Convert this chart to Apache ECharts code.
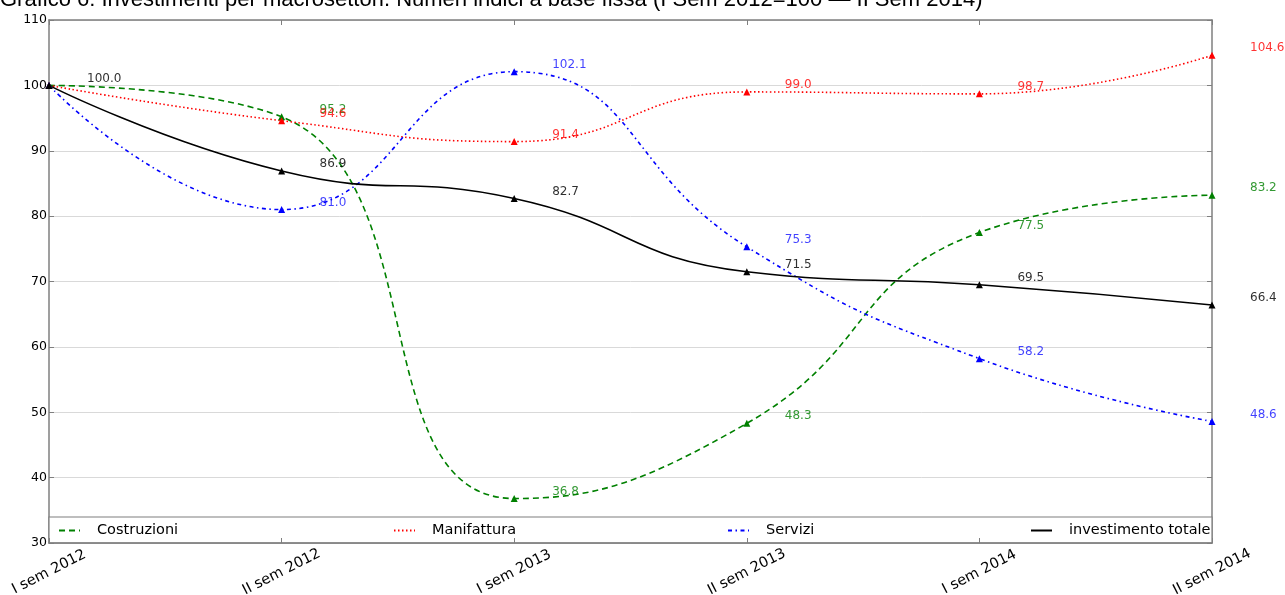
<!DOCTYPE html>
<html>
<head>
<meta charset="utf-8">
<script src="https://cdn.jsdelivr.net/npm/echarts@6/dist/echarts.min.js"></script>
<style>
  html, body { margin: 0; padding: 0; background: #fff; }
  #chart { width: 1285px; height: 595px; }
</style>
</head>
<body>
<div id="chart"></div>
<script>
// Semesters on the x axis
var categories = ['I sem 2012', 'II sem 2012', 'I sem 2013', 'II sem 2013', 'I sem 2014', 'II sem 2014'];

// Fixed-base index numbers (I sem 2012 = 100)
var costruzioni = [100.0, 95.2, 36.8, 48.3, 77.5, 83.2];
var manifattura = [100.0, 94.6, 91.4, 99.0, 98.7, 104.6];
var servizi = [100.0, 81.0, 102.1, 75.3, 58.2, 48.6];
var totale = [100.0, 86.9, 82.7, 71.5, 69.5, 66.4];

var seriesNames = ['Costruzioni', 'Manifattura', 'Servizi', 'investimento totale'];

// Y axis scale
var yMin = 30, yMax = 110, yStep = 10;

var FONT = 'DejaVu Sans';
var FRAME = '#7f7f7f';

function makeSeries(name, data, color, labelColor, dash, showFirst) {
  return {
    name: name,
    type: 'line',
    data: data,
    smooth: 0.5,
    symbol: 'triangle',
    symbolSize: 7,
    showAllSymbol: true,
    itemStyle: { color: color },
    lineStyle: { color: color, width: 1.6, type: dash },
    emphasis: { disabled: true },
    label: {
      show: true,
      position: 'inside',
      offset: [38, -7],
      align: 'left',
      verticalAlign: 'middle',
      fontFamily: FONT,
      fontSize: 12,
      color: labelColor,
      formatter: function (p) {
        if (p.dataIndex === 0 && !showFirst) return '';
        return Number(p.value).toFixed(1);
      }
    },
    z: 3
  };
}

function legendAt(name, left) {
  return {
    data: [name],
    left: left,
    top: 523,
    orient: 'horizontal',
    itemWidth: 21,
    itemHeight: 14,
    padding: 0,
    selectedMode: false,
    itemStyle: { opacity: 0 },
    textStyle: { fontFamily: FONT, fontSize: 14.5, color: '#000', padding: [0, 0, 0, 12] },
    z: 10
  };
}

var chart = echarts.init(document.getElementById('chart'), null, { renderer: 'canvas' });

var option = {
  animation: false,
  backgroundColor: '#fff',
  title: {
    text: 'Grafico 6: Investimenti per macrosettori. Numeri indici a base fissa (I Sem 2012=100 \u2014 II Sem 2014)',
    left: 0,
    top: -11,
    padding: 0,
    textStyle: { fontFamily: 'Liberation Sans', fontSize: 22, fontWeight: 'normal', color: '#000' }
  },
  grid: { left: 49, right: 73, top: 20, bottom: 52, containLabel: false, outerBoundsMode: 'none' },
  legend: [
    legendAt(seriesNames[0], 58),
    legendAt(seriesNames[1], 393),
    legendAt(seriesNames[2], 727),
    legendAt(seriesNames[3], 1030)
  ],
  graphic: [
    {
      type: 'rect',
      shape: { x: 49, y: 517, width: 1163, height: 26 },
      style: { fill: '#fff', stroke: FRAME, lineWidth: 1.2 },
      z: 1
    }
  ],
  xAxis: [
    {
      type: 'category',
      data: categories,
      boundaryGap: false,
      position: 'bottom',
      axisLine: { show: true, lineStyle: { color: FRAME, width: 1.5 } },
      axisTick: { show: true, inside: true, length: 5, lineStyle: { color: FRAME } },
      axisLabel: {
        rotate: 27,
        align: 'center',
        verticalAlign: 'middle',
        margin: 29,
        fontFamily: FONT,
        fontSize: 14.5,
        color: '#000',
        interval: 0
      },
      splitLine: { show: false },
      z: 5
    },
    {
      type: 'category',
      data: categories,
      boundaryGap: false,
      position: 'top',
      axisLine: { show: true, lineStyle: { color: FRAME, width: 1.5 } },
      axisTick: { show: true, inside: true, length: 5, lineStyle: { color: FRAME } },
      axisLabel: { show: false },
      splitLine: { show: false }
    }
  ],
  yAxis: [
    {
      type: 'value',
      min: yMin,
      max: yMax,
      interval: yStep,
      position: 'left',
      axisLine: { show: true, lineStyle: { color: FRAME, width: 1.5 } },
      axisTick: { show: true, inside: true, length: 5, lineStyle: { color: FRAME } },
      axisLabel: { fontFamily: FONT, fontSize: 12.5, color: '#000', margin: 2 },
      splitLine: { show: true, lineStyle: { color: '#d9d9d9', width: 1 } }
    },
    {
      type: 'value',
      min: yMin,
      max: yMax,
      interval: yStep,
      position: 'right',
      axisLine: { show: true, lineStyle: { color: FRAME, width: 1.5 } },
      axisTick: { show: true, inside: true, length: 5, lineStyle: { color: FRAME } },
      axisLabel: { show: false },
      splitLine: { show: false }
    }
  ],
  series: [
    makeSeries(seriesNames[0], costruzioni, '#008000', 'rgba(0,128,0,0.8)', [6, 4], false),
    makeSeries(seriesNames[1], manifattura, '#ff0000', 'rgba(255,0,0,0.8)', [1.5, 2.5], false),
    makeSeries(seriesNames[2], servizi, '#0000ff', 'rgba(0,0,255,0.75)', [4, 3.5, 1.5, 3.5], false),
    makeSeries(seriesNames[3], totale, '#000000', 'rgba(0,0,0,0.82)', 'solid', true)
  ]
};

chart.setOption(option);
</script>
</body>
</html>
